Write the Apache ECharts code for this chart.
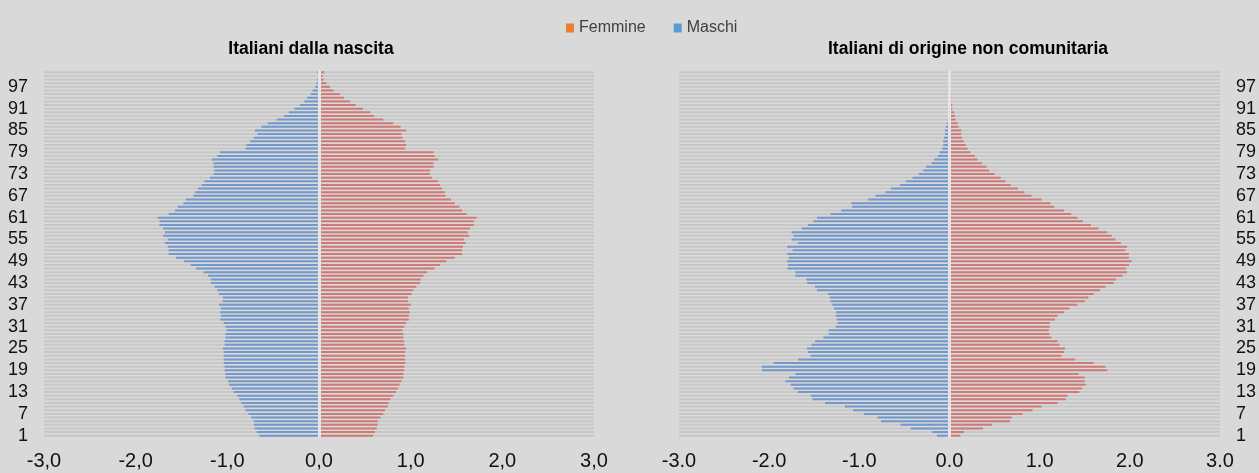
<!DOCTYPE html>
<html>
<head>
<meta charset="utf-8">
<script src="https://cdn.jsdelivr.net/npm/echarts@6/dist/echarts.min.js"></script>
<style>
  html, body { margin: 0; padding: 0; background: #d9d9d9; }
  #chart { width: 1259px; height: 473px; }
</style>
</head>
<body>
<div id="chart"></div>
<script>
  // età 1..101, dal basso verso l'alto
  const eta = Array.from({length: 101}, (_, i) => String(i + 1));

  // Italiani dalla nascita (% sul totale)
  const nascitaMaschi = [
    0.65,
    0.68, 0.70, 0.71, 0.71, 0.74, 0.77, 0.80, 0.82, 0.85, 0.87,
    0.89, 0.93, 0.95, 0.98, 0.99, 1.02, 1.02, 1.03, 1.03, 1.04,
    1.04, 1.04, 1.04, 1.05, 1.03, 1.03, 1.02, 1.02, 1.01, 1.02,
    1.04, 1.08, 1.07, 1.08, 1.07, 1.09, 1.05, 1.05, 1.09, 1.11,
    1.14, 1.18, 1.18, 1.21, 1.26, 1.34, 1.40, 1.47, 1.56, 1.64,
    1.64, 1.65, 1.68, 1.65, 1.70, 1.68, 1.70, 1.74, 1.74, 1.76,
    1.64, 1.57, 1.54, 1.48, 1.45, 1.37, 1.35, 1.32, 1.28, 1.25,
    1.19, 1.15, 1.14, 1.15, 1.15, 1.17, 1.11, 1.08, 0.80, 0.79,
    0.75, 0.71, 0.67, 0.70, 0.63, 0.56, 0.46, 0.38, 0.33, 0.27,
    0.21, 0.16, 0.13, 0.09, 0.07, 0.04, 0.03, 0.02, 0.01, 0.02
  ];
  const nascitaFemmine = [
    0.59,
    0.61, 0.63, 0.64, 0.64, 0.67, 0.70, 0.72, 0.75, 0.76, 0.78,
    0.81, 0.84, 0.86, 0.88, 0.90, 0.92, 0.92, 0.93, 0.93, 0.94,
    0.94, 0.94, 0.94, 0.95, 0.93, 0.93, 0.92, 0.92, 0.91, 0.93,
    0.95, 0.98, 0.98, 0.99, 0.98, 1.00, 0.97, 0.97, 1.01, 1.03,
    1.06, 1.10, 1.11, 1.14, 1.18, 1.26, 1.32, 1.39, 1.48, 1.56,
    1.56, 1.57, 1.60, 1.58, 1.64, 1.62, 1.65, 1.69, 1.69, 1.72,
    1.61, 1.56, 1.53, 1.48, 1.44, 1.38, 1.37, 1.34, 1.32, 1.30,
    1.23, 1.21, 1.21, 1.25, 1.25, 1.30, 1.26, 1.25, 0.94, 0.95,
    0.94, 0.91, 0.90, 0.95, 0.89, 0.81, 0.70, 0.60, 0.56, 0.48,
    0.40, 0.34, 0.27, 0.23, 0.16, 0.12, 0.08, 0.05, 0.04, 0.06
  ];

  // Italiani di origine non comunitaria (% sul totale)
  const origineMaschi = [
    0.14,
    0.19, 0.43, 0.54, 0.76, 0.80, 0.95, 1.07, 1.16, 1.38, 1.52,
    1.54, 1.68, 1.73, 1.76, 1.82, 1.78, 1.71, 2.08, 2.08, 1.95,
    1.68, 1.54, 1.57, 1.58, 1.53, 1.49, 1.40, 1.34, 1.34, 1.26,
    1.24, 1.25, 1.26, 1.26, 1.28, 1.30, 1.32, 1.33, 1.35, 1.47,
    1.49, 1.58, 1.59, 1.71, 1.71, 1.80, 1.79, 1.80, 1.78, 1.80,
    1.74, 1.80, 1.68, 1.75, 1.73, 1.75, 1.64, 1.57, 1.51, 1.47,
    1.32, 1.20, 1.08, 1.09, 0.90, 0.82, 0.71, 0.65, 0.55, 0.48,
    0.41, 0.34, 0.29, 0.26, 0.20, 0.17, 0.13, 0.11, 0.08, 0.07,
    0.07, 0.06, 0.05, 0.05, 0.04, 0.03, 0.02, 0.01, 0.01, 0.005,
    0.005, 0, 0, 0, 0, 0, 0, 0, 0, 0
  ];
  const origineFemmine = [
    0.12,
    0.16, 0.37, 0.47, 0.67, 0.69, 0.81, 0.92, 1.02, 1.20, 1.29,
    1.31, 1.44, 1.47, 1.51, 1.50, 1.50, 1.43, 1.75, 1.73, 1.60,
    1.39, 1.24, 1.27, 1.28, 1.22, 1.20, 1.13, 1.11, 1.10, 1.11,
    1.11, 1.17, 1.20, 1.27, 1.33, 1.42, 1.50, 1.54, 1.60, 1.67,
    1.73, 1.82, 1.85, 1.92, 1.97, 1.96, 1.99, 2.02, 1.99, 1.99,
    1.95, 1.97, 1.90, 1.84, 1.80, 1.75, 1.65, 1.57, 1.48, 1.42,
    1.35, 1.27, 1.16, 1.12, 1.02, 0.91, 0.83, 0.76, 0.68, 0.62,
    0.57, 0.50, 0.44, 0.41, 0.36, 0.31, 0.28, 0.23, 0.20, 0.18,
    0.16, 0.14, 0.13, 0.13, 0.10, 0.09, 0.07, 0.06, 0.05, 0.03,
    0.03, 0.02, 0.02, 0.02, 0.01, 0.005, 0.005, 0.005, 0, 0
  ];

  const FONT = "'Liberation Sans', Arial, sans-serif";

  function valueAxis(gridIndex, formatter) {
    return {
      gridIndex: gridIndex,
      type: 'value',
      min: -3,
      max: 3,
      interval: 1,
      axisLine: {show: false},
      axisTick: {show: false},
      splitLine: {show: false},
      axisLabel: {formatter: formatter, fontSize: 20, color: '#111', margin: 14, fontFamily: FONT}
    }
  }

  function ageAxis(gridIndex, position) {
    return {
      gridIndex: gridIndex,
      type: 'category',
      position: position,
      data: eta,
      axisLine: {show: false},
      axisTick: {show: false},
      axisLabel: {interval: 5, fontSize: 18, color: '#111', margin: 16, fontFamily: FONT}
    }
  }

  function pyramid(index, maschi, femmine) {
    return [
      {
        name: 'Maschi',
        type: 'bar',
        xAxisIndex: index,
        yAxisIndex: index,
        data: maschi.map(v => -v),
        barWidth: 2,
        barGap: '-100%',
        showBackground: true,
        backgroundStyle: {color: '#c7c7c7'},
        itemStyle: {color: '#7398cb'},
        markLine: {
          silent: true,
          symbol: 'none',
          label: {show: false},
          lineStyle: {color: '#e4e4e4', width: 3, type: 'solid'},
          data: [{xAxis: 0}]
        }
      },
      {
        name: 'Femmine',
        type: 'bar',
        xAxisIndex: index,
        yAxisIndex: index,
        data: femmine,
        barWidth: 2,
        barGap: '-100%',
        itemStyle: {color: '#cf7a77'}
      }
    ]
  }

  const chart = echarts.init(document.getElementById('chart'))
  chart.setOption({
    backgroundColor: '#d9d9d9',
    animation: false,
    textStyle: {fontFamily: FONT},
    title: [
      {text: 'Italiani dalla nascita', left: 306, top: 35, textAlign: 'center',
        textStyle: {fontSize: 17.5, fontWeight: 'bold', color: '#000', fontFamily: FONT}},
      {text: 'Italiani di origine non comunitaria', left: 963, top: 35, textAlign: 'center',
        textStyle: {fontSize: 17.5, fontWeight: 'bold', color: '#000', fontFamily: FONT}}
    ],
    legend: {
      top: 15,
      left: 561,
      icon: 'rect',
      itemWidth: 8,
      itemHeight: 9,
      itemGap: 28,
      selectedMode: false,
      textStyle: {fontSize: 16, color: '#404040', fontFamily: FONT},
      data: [
        {name: 'Femmine', itemStyle: {color: '#ed7d31'}},
        {name: 'Maschi', itemStyle: {color: '#5b9bd5'}}
      ]
    },
    grid: [
      {left: 44, top: 70.5, width: 550, height: 367},
      {left: 679, top: 70.5, width: 550, height: 367}
    ],
    xAxis: [
      valueAxis(0, v => v.toFixed(1).replace('.', ',')),
      valueAxis(1, v => v.toFixed(1))
    ],
    yAxis: [
      ageAxis(0, 'left'),
      ageAxis(1, 'right')
    ],
    series: pyramid(0, nascitaMaschi, nascitaFemmine).concat(pyramid(1, origineMaschi, origineFemmine))
  })
</script>
</body>
</html>
